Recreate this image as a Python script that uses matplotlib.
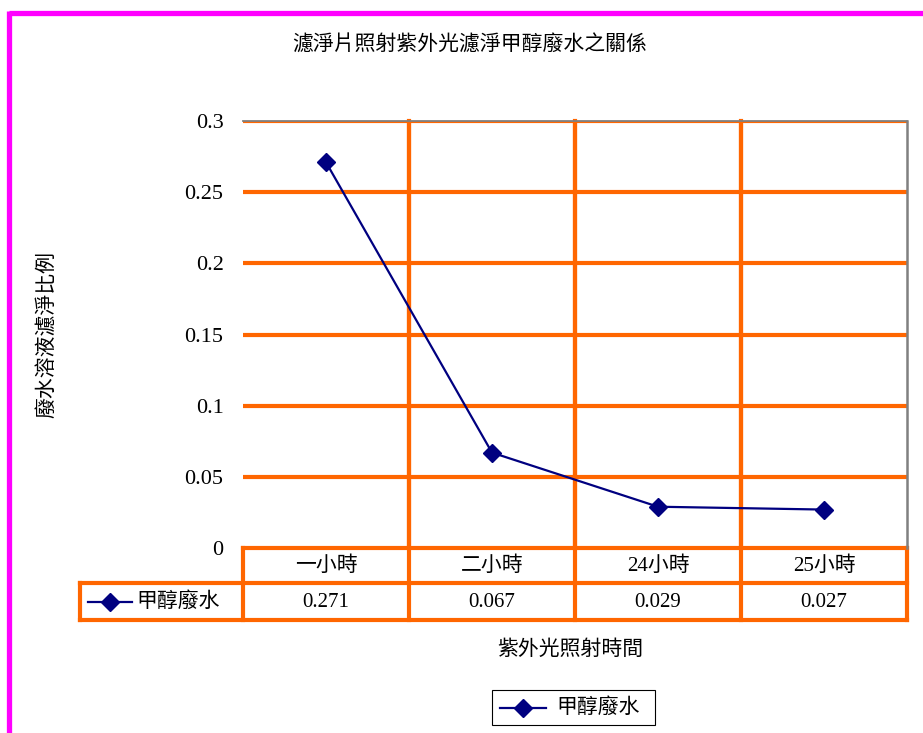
import matplotlib
matplotlib.use('Agg')
import matplotlib.pyplot as plt
from matplotlib.patches import Rectangle

# 字型設定
plt.rcParams['font.family'] = ['Liberation Serif', 'Noto Sans CJK TC']
plt.rcParams['axes.unicode_minus'] = False

# 資料
categories = ['一小時', '二小時', '24小時', '25小時']
values = [0.271, 0.067, 0.029, 0.027]
series_name = '甲醇廢水'
y_ticks = [0, 0.05, 0.1, 0.15, 0.2, 0.25, 0.3]
y_tick_labels = ['0', '0.05', '0.1', '0.15', '0.2', '0.25', '0.3']

title = '濾淨片照射紫外光濾淨甲醇廢水之關係'
x_label = '紫外光照射時間'
y_label = '廢水溶液濾淨比例'

W, H = 923, 733
ORANGE = '#FF6600'
NAVY = '#000080'
GRID_LW = 3.0
FS = 15

fig = plt.figure(figsize=(W / 100, H / 100), dpi=100)

# 像素座標的畫布
canvas = fig.add_axes([0, 0, 1, 1], zorder=0)
canvas.set_xlim(0, W)
canvas.set_ylim(H, 0)
canvas.axis('off')

# 繪圖區 (像素)
left, right, top, bottom = 243, 907, 121, 548
ax = fig.add_axes([left / W, 1 - bottom / H, (right - left) / W, (bottom - top) / H], zorder=2)
ax.set_facecolor('none')
n = len(categories)
ax.set_xlim(0, n)
ax.set_ylim(0, 0.3)
for s in ax.spines.values():
    s.set_visible(False)
ax.set_xticks([])
ax.set_yticks(y_ticks)
ax.set_yticklabels(y_tick_labels, fontsize=16)
ax.tick_params(axis='y', length=0, pad=14)

# 格線
for yv in y_ticks[1:]:
    ax.axhline(yv, color=ORANGE, lw=GRID_LW, zorder=1, solid_capstyle='butt')
for i in range(1, n):
    ax.axvline(i, color=ORANGE, lw=GRID_LW, zorder=1, solid_capstyle='butt')
ax.plot([0, n], [0.3, 0.3], color='#808080', lw=1.3, zorder=1.5, clip_on=False)
ax.plot([n, n], [0, 0.3], color='#808080', lw=1.8, zorder=1.5, clip_on=False)

# 資料線
xs = [i + 0.5 for i in range(n)]
ax.plot(xs, values, color=NAVY, lw=1.6, marker='D', markersize=9, zorder=3)

# 資料表
col_w = (right - left) / n
row1, row2, row3 = 548, 583, 620
tab_left = 80
kw = dict(color=ORANGE, lw=GRID_LW, solid_capstyle='projecting')
canvas.plot([left, right], [row1, row1], **kw)
canvas.plot([tab_left, right], [row2, row2], **kw)
canvas.plot([tab_left, right], [row3, row3], **kw)
canvas.plot([tab_left, tab_left], [row2, row3], **kw)
for i in range(n + 1):
    x = left + i * col_w
    y0 = row1 if i in (0, n) else top
    canvas.plot([x, x], [y0, row3], **kw)

for i, (c, v) in enumerate(zip(categories, values)):
    cx = left + (i + 0.5) * col_w
    canvas.text(cx, (row1 + row2) / 2 + 1, c, ha='center', va='center', fontsize=FS)
    canvas.text(cx, (row2 + row3) / 2 + 1, f'{v:.3f}', ha='center', va='center', fontsize=15)

# 表格圖例鍵
canvas.plot([88, 132], [602, 602], color=NAVY, lw=1.6)
canvas.plot([110], [602], marker='D', color=NAVY, markersize=9)
canvas.text(136, 602, series_name, ha='left', va='center', fontsize=FS)

# 標題與座標軸標籤
canvas.text(470, 45, title, ha='center', va='center', fontsize=FS)
canvas.text(570, 650, x_label, ha='center', va='center', fontsize=FS)
canvas.text(47, 334, y_label, ha='center', va='center', rotation=90, fontsize=FS)

# 下方圖例
canvas.add_patch(Rectangle((492, 690), 163, 35, fill=False, ec='black', lw=0.8))
canvas.plot([500, 546], [708, 708], color=NAVY, lw=1.6)
canvas.plot([523], [708], marker='D', color=NAVY, markersize=9)
canvas.text(556, 708, series_name, ha='left', va='center', fontsize=FS)

# 洋紅色外框
mag = dict(color='#FF00FF', lw=3.8, solid_capstyle='butt')
canvas.plot([8.5, W], [12.5, 12.5], **mag)
canvas.plot([8.5, 8.5], [10.5, H], **mag)

fig.savefig('out.png', dpi=100)
